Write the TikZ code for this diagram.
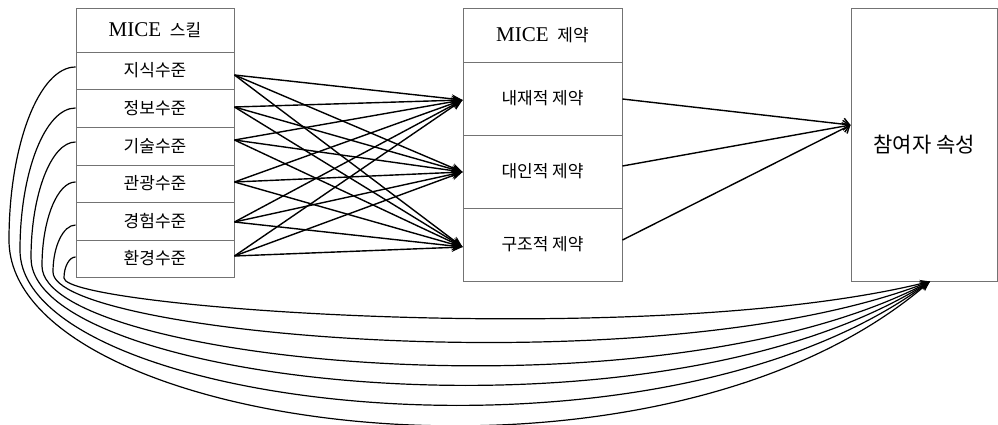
\documentclass[tikz,border=0pt]{standalone}
\usepackage{fontspec}
\setmainfont{Liberation Serif}
\newfontfamily\kr{Noto Sans CJK KR}
\usetikzlibrary{arrows.meta}
\begin{document}
\begin{tikzpicture}[x=1pt,y=-1pt,
  frame/.style={draw=black!55, line width=0.9pt, inner sep=0pt},
  lbox/.style={frame, minimum width=158pt, font=\kr\fontsize{17}{19}\selectfont},
  mbox/.style={frame, minimum width=159pt, font=\kr\fontsize{17}{19}\selectfont},
  titletext/.style={font=\fontsize{21}{23}\selectfont},
  arr/.style={line width=1.4pt, -{Stealth[length=11pt,width=9pt]}},
  barb/.style={line width=1.4pt, -{Straight Barb[length=6pt,width=12pt]}},
  curve/.style={line width=1.2pt, -{Stealth[length=10pt,width=8pt]}}
]
\useasboundingbox (0,0) rectangle (998,425);

% left box
\node[lbox, titletext, minimum height=44pt] (l0) at (155,30) {MICE\, {\kr\fontsize{17}{19}\selectfont 스킬}};
\node[lbox, minimum height=37pt] (l1) at (155,70.5) {지식수준};
\node[lbox, minimum height=38pt] (l2) at (155,108) {정보수준};
\node[lbox, minimum height=38pt] (l3) at (155,146) {기술수준};
\node[lbox, minimum height=37pt] (l4) at (155,183.5) {관광수준};
\node[lbox, minimum height=38pt] (l5) at (155,221) {경험수준};
\node[lbox, minimum height=37pt] (l6) at (155,258.5) {환경수준};

% middle box
\node[mbox, titletext, minimum height=54pt] (m0) at (542.5,35) {MICE\, {\kr\fontsize{17}{19}\selectfont 제약}};
\node[mbox, minimum height=73pt] (m1) at (542.5,98.5) {내재적 제약};
\node[mbox, minimum height=73pt] (m2) at (542.5,171.5) {대인적 제약};
\node[mbox, minimum height=73pt] (m3) at (542.5,244.5) {구조적 제약};

% right box
\node[frame, minimum width=146pt, minimum height=273pt, font=\kr\fontsize{21}{24}\selectfont] (p) at (924,144.5) {참여자 속성};

% crossing arrows
\foreach \s/\sy in {l1/-4.5, l2/1, l3/6, l4/1.5, l5/-1, l6/2.5}
  \foreach \t/\ty in {m1/-1.5, m2/-0.5, m3/-2.5}
    \draw[arr] ([yshift=\sy pt]\s.east) -- ([yshift=\ty pt]\t.west);

% to participant attributes
\coordinate (pin) at ([yshift=19.5pt]p.west);
\draw[barb] ([yshift=-0.5pt]m1.east) -- (pin);
\draw[barb] ([yshift=5.5pt]m2.east) -- (pin);
\draw[barb] ([yshift=4.5pt]m3.east) -- (pin);

% long curves
\coordinate (t) at ([xshift=6pt]p.south);
\coordinate (k1) at (9,240);
\coordinate (k2) at (20,250);
\coordinate (k3) at (31,258);
\coordinate (k4) at (42,266);
\coordinate (k5) at (53,272);
\coordinate (k6) at (64,278);
\draw[curve] ([yshift=3.5pt]l1.west) .. controls (39.2,67) and (9,144.85) .. (k1)
  .. controls (9,430) and (650,520) .. (t);
\draw[curve] ([yshift=0pt]l2.west) .. controls (45.2,108) and (20,171.9) .. (k2)
  .. controls (20,408) and (650,486) .. (t);
\draw[curve] ([yshift=4pt]l3.west) .. controls (51.25,142) and (31,194.2) .. (k3)
  .. controls (31,384) and (650,455) .. (t);
\draw[curve] ([yshift=1.5pt]l4.west) .. controls (57.3,182) and (42,219.8) .. (k4)
  .. controls (42,360) and (650,425) .. (t);
\draw[curve] ([yshift=-4pt]l5.west) .. controls (63.35,225) and (53,246.15) .. (k5)
  .. controls (53,334) and (650,388) .. (t);
\draw[curve] ([yshift=1.5pt]l6.west) .. controls (69.4,257) and (64,266.45) .. (k6)
  .. controls (64,308) and (650,350) .. (t);
\end{tikzpicture}
\end{document}
